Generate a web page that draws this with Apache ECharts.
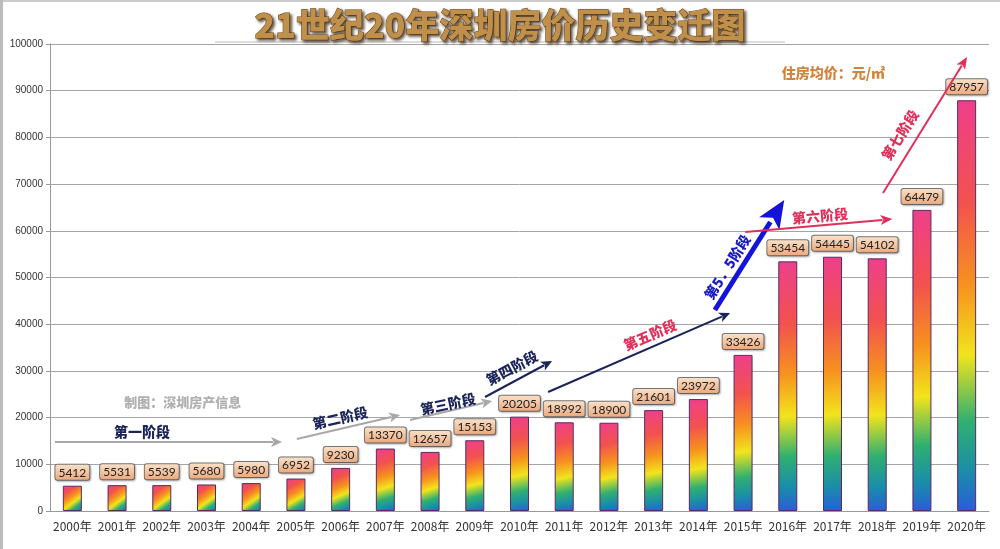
<!DOCTYPE html>
<html><head><meta charset="utf-8">
<script src="https://cdn.jsdelivr.net/npm/echarts@6/dist/echarts.min.js"></script>
<style>html,body{margin:0;padding:0;background:#fff}#c{width:1000px;height:549px}</style>
</head><body><div id="c"></div>
<script>
const titleText = '21世纪20年深圳房价历史变迁图';
const categories = ['2000年','2001年','2002年','2003年','2004年','2005年','2006年','2007年','2008年','2009年','2010年','2011年','2012年','2013年','2014年','2015年','2016年','2017年','2018年','2019年','2020年'];
const prices = [5412,5531,5539,5680,5980,6952,9230,13370,12657,15153,20205,18992,18900,21601,23972,33426,53454,54445,54102,64479,87957];
const yTicks = {min:0, max:100000, interval:10000};
// annotations in data space: [categoryIndex (fractional), value]
const arrows = [
  {from:[-0.39,14775], to:[4.69,14775], color:'#a8a8a8', w:2, head:11, hw:5},
  {from:[5.02,15418], to:[7.33,20557], color:'#a8a8a8', w:2, head:11, hw:5},
  {from:[7.55,19486], to:[9.39,23555], color:'#a8a8a8', w:2, head:11, hw:5},
  {from:[9.23,24411], to:[10.73,32120], color:'#1a2458', w:2, head:11, hw:5},
  {from:[10.64,25482], to:[14.71,42398], color:'#1a2458', w:2, head:11, hw:5},
  {from:[14.37,43041], to:[15.92,66595], color:'#1414d8', w:5, head:28, hw:12},
  {from:[15.05,59743], to:[18.34,62527], color:'#e0305a', w:2, head:12, hw:5},
  {from:[18.13,68094], to:[20.01,97216], color:'#e0305a', w:2, head:12, hw:5}
];
const notes = [
  {text:'第一阶段', at:[1.56,16916], rot:0, color:'#1a2458', size:14},
  {text:'第二阶段', at:[5.99,19914], rot:13, color:'#1a2458', size:14},
  {text:'第三阶段', at:[8.40,22912], rot:12, color:'#1a2458', size:14},
  {text:'第四阶段', at:[9.83,30621], rot:28, color:'#1a2458', size:14},
  {text:'第五阶段', at:[12.92,37687], rot:23.5, color:'#e0305a', size:14},
  {text:'第5．5阶段', at:[14.65,52248], rot:58, color:'#1a1ac8', size:14},
  {text:'第六阶段', at:[16.72,63169], rot:5, color:'#e0305a', size:14},
  {text:'第七阶段', at:[18.51,80514], rot:58, color:'#e0305a', size:14},
  {text:'住房均价：元/㎡', at:[17.02,93790], rot:0, color:'#d2843c', size:14},
  {text:'制图：深圳房产信息', at:[2.47,23340], rot:0, color:'#b0b0b0', size:13}
];

const chart = echarts.init(document.getElementById('c'));
const barGrad = new echarts.graphic.LinearGradient(0,0,1,1,[
  {offset:0, color:'#ee3f8c'},
  {offset:0.25, color:'#f2524e'},
  {offset:0.45, color:'#f6921e'},
  {offset:0.62, color:'#f2e41c'},
  {offset:0.78, color:'#30b070'},
  {offset:0.9, color:'#1a8ea8'},
  {offset:1, color:'#2a5cd8'}
]);
const labelGrad = new echarts.graphic.LinearGradient(0,0,0,1,[
  {offset:0, color:'#fbe3cc'},
  {offset:1, color:'#eba77a'}
]);
const titleGrad = new echarts.graphic.LinearGradient(0,0,0,1,[
  {offset:0, color:'#e8c27a'},
  {offset:0.5, color:'#b8803a'},
  {offset:1, color:'#d8a860'}
]);
chart.setOption({
  animation:false,
  backgroundColor:'#fff',
  title:{text:titleText, left:'center', top:3,
    textStyle:{fontFamily:'Noto Sans CJK SC', fontSize:34, fontWeight:900, color:'#c0904a',
      textBorderColor:'#6a4820', textBorderWidth:1,
      textShadowColor:'rgba(50,30,10,0.8)', textShadowBlur:3, textShadowOffsetX:2, textShadowOffsetY:2}},
  grid:{left:50, right:11, top:44, bottom:38, containLabel:false},
  xAxis:{type:'category', data:categories,
    axisLine:{lineStyle:{color:'#999'}}, axisTick:{lineStyle:{color:'#999'}, length:4},
    axisLabel:{color:'#333', fontSize:12, margin:9, fontFamily:'Noto Sans CJK SC', interval:0}},
  yAxis:{type:'value', min:yTicks.min, max:yTicks.max, interval:yTicks.interval,
    axisLine:{show:true, lineStyle:{color:'#999'}}, axisTick:{show:true, length:4, lineStyle:{color:'#999'}},
    splitLine:{lineStyle:{color:'#a5a5a5', width:1}},
    axisLabel:{color:'#333', fontSize:10, margin:7, fontFamily:'Liberation Sans', formatter:v=>String(v)}},
  series:[{type:'bar', data:prices, barWidth:19,
    itemStyle:{color:barGrad, borderColor:'#5a2a62', borderWidth:1},
    label:{show:true, position:'top', distance:6, color:'#222', fontSize:12, fontFamily:'Lato',
      backgroundColor:labelGrad, borderColor:'#777', borderWidth:1, borderRadius:2, padding:[2,3,1,3],
      shadowColor:'rgba(0,0,0,0.25)', shadowBlur:2, shadowOffsetX:1, shadowOffsetY:1}
  }]
});

function px(pt){
  const a = chart.convertToPixel({gridIndex:0},[0,pt[1]]);
  const b = chart.convertToPixel({gridIndex:0},[1,pt[1]]);
  return [a[0] + (b[0]-a[0])*pt[0], a[1]];
}
const els = [];
els.push({type:'line', shape:{x1:215,y1:42,x2:785,y2:42}, style:{stroke:'#bbb', lineWidth:1}, silent:true});
els.push({type:'line', shape:{x1:0,y1:1,x2:1000,y2:1}, style:{stroke:'#ccc', lineWidth:2}, silent:true});
els.push({type:'line', shape:{x1:1.5,y1:0,x2:1.5,y2:549}, style:{stroke:'#bbb', lineWidth:3}, silent:true});
arrows.forEach(a=>{
  const p1 = px(a.from), p2 = px(a.to);
  const dx = p2[0]-p1[0], dy = p2[1]-p1[1], L = Math.hypot(dx,dy);
  const ux = dx/L, uy = dy/L, nx = -uy, ny = ux;
  const bx = p2[0]-ux*a.head, by = p2[1]-uy*a.head;
  els.push({type:'line', shape:{x1:p1[0],y1:p1[1],x2:bx+ux*2,y2:by+uy*2}, style:{stroke:a.color, lineWidth:a.w}, z:10});
  els.push({type:'polygon', shape:{points:[[p2[0],p2[1]],[bx+nx*a.hw,by+ny*a.hw],[bx+ux*a.head*0.25,by+uy*a.head*0.25],[bx-nx*a.hw,by-ny*a.hw]]}, style:{fill:a.color}, z:10});
});
notes.forEach(n=>{
  const p = px(n.at);
  els.push({type:'text', x:p[0], y:p[1], rotation:n.rot*Math.PI/180, z:11,
    style:{text:n.text, fill:n.color, font:'900 '+n.size+'px "Noto Sans CJK SC"', align:'center', verticalAlign:'middle'}});
});
chart.setOption({graphic:els});
</script></body></html>
